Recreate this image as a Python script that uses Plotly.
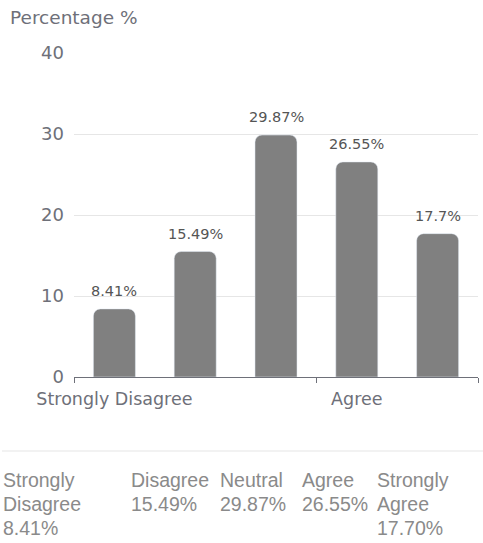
import plotly.graph_objects as go

categories = ["Strongly Disagree", "Disagree", "Neutral", "Agree", "Strongly Agree"]
table_labels = [["Strongly", "Disagree"], ["Disagree"], ["Neutral"], ["Agree"], ["Strongly", "Agree"]]
values = [8.41, 15.49, 29.87, 26.55, 17.70]
y_ticks = [0, 10, 20, 30, 40]
shown_labels = [0, 3]

W, H = 483, 543
L, R, T, B = 74, 5, 53, 166
pw, ph = W - L - R, H - T - B

def px(x):
    return (x - L) / pw

def py(y):
    return (H - B - y) / ph

FONT = "DejaVu Sans"
idx = list(range(len(categories)))
fig = go.Figure()
fig.add_trace(go.Bar(
    x=idx, y=values,
    width=0.52,
    marker=dict(color="#808080", cornerradius=7),
    hoverinfo="skip",
))

fig.update_layout(
    width=W, height=H,
    margin=dict(l=L, r=R, t=T, b=B, pad=0),
    paper_bgcolor="white", plot_bgcolor="white",
    showlegend=False,
    font=dict(family=FONT, color="#6e7079"),
)
fig.update_xaxes(
    type="linear", range=[-0.5, len(categories) - 0.5],
    tickvals=shown_labels, ticktext=[categories[i] for i in shown_labels],
    ticks="", showgrid=False, zeroline=False,
    showline=True, linecolor="#6e7079", linewidth=1,
    tickfont=dict(family=FONT, size=17.5, color="#6e7079"),
    ticklabelstandoff=6,
    minor=dict(tickvals=[-0.5, 2.5, 4.5], ticks="outside", ticklen=5,
               tickcolor="#6e7079", showgrid=False),
)
fig.update_yaxes(
    range=[0, 40], tickvals=y_ticks,
    showgrid=True, gridcolor="#e6e6e6", gridwidth=1, zeroline=False,
    showline=False, ticks="",
    tickfont=dict(family=FONT, size=18, color="#6e7079"),
    ticklabelstandoff=9,
)

annotations = [dict(
    text="Percentage %", xref="paper", yref="paper",
    x=px(8), y=py(18), xanchor="left", yanchor="middle", showarrow=False,
    font=dict(family=FONT, size=18.5, color="#6e7079"),
)]
for i, v in zip(idx, values):
    annotations.append(dict(
        text=f"{v:g}%", x=i, y=v, xref="x", yref="y",
        xanchor="center", yanchor="bottom", yshift=8, showarrow=False,
        font=dict(family=FONT, size=14.5, color="#555555"),
    ))
col_x = [1, 129, 218, 300, 375]
row_y = [480, 504, 528]
for i, (lab, v) in enumerate(zip(table_labels, values)):
    lines = lab + [f"{v:.2f}%"]
    for j, line in enumerate(lines):
        annotations.append(dict(
            text=line, xref="paper", yref="paper",
            x=px(col_x[i]), y=py(row_y[j]), xanchor="left", yanchor="middle",
            align="left", showarrow=False,
            font=dict(family="Liberation Sans", size=19.5, color="#8a8a8a"),
        ))
fig.update_layout(annotations=annotations)
fig.add_shape(type="line", xref="paper", yref="paper",
              x0=px(2), x1=px(483), y0=py(451), y1=py(451),
              line=dict(color="#eeeeee", width=1.5))

fig.write_html("out.html")
